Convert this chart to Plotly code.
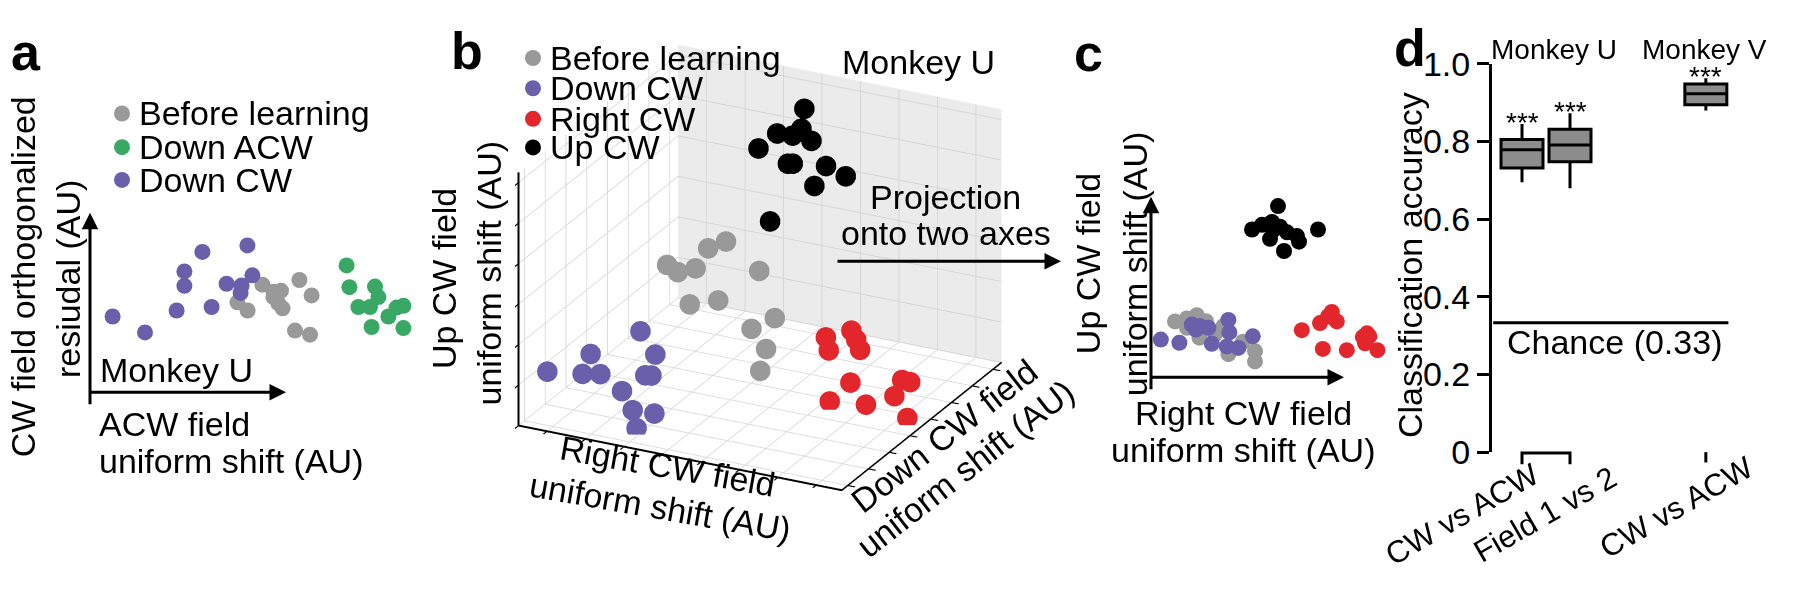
import plotly.graph_objects as go

W, H = 1800, 590
def px(x): return x / W
def py(y): return 1 - y / H

FONT = "Liberation Sans"
GRAY = "#999999"
PURPLE = "#6a5fab"
GREEN = "#3aa865"
RED = "#e2262b"
BLACK = "#000000"

# ---------------- Panel a data (AU) ----------------
a_gray_x = [7.37, 7.88, 8.62, 9.17, 9.55, 9.63, 9.42, 10.47, 11.08, 10.25, 11.0, 9.17]
a_gray_y = [4.81, 4.37, 5.75, 5.09, 5.43, 4.49, 4.75, 6.0, 5.18, 3.3, 3.08, 5.37]
a_green_x = [12.83, 12.97, 14.25, 14.42, 13.42, 14.0, 14.92, 15.33, 15.67, 14.08, 15.67]
a_green_y = [6.78, 5.62, 5.65, 5.09, 4.56, 4.56, 4.05, 4.53, 4.62, 3.49, 3.43]
a_purple_x = [1.13, 2.75, 4.33, 4.72, 4.72, 5.62, 6.08, 6.83, 7.87, 8.12, 7.58, 7.53]
a_purple_y = [4.05, 3.2, 4.37, 6.46, 5.69, 7.5, 4.56, 5.8, 7.85, 6.25, 5.71, 5.31]

# ---------------- Panel b data (AU, 3D) ----------------
b_gray_right = [2.12, 2.45, 3.0, 4.97, 2.82, 3.7, 5.45, 4.73, 5.18, 5.0, 3.39, 3.94]
b_gray_down = [5.0, 5.0, 5.0, 5.0, 5.0, 5.0, 5.0, 5.0, 5.0, 5.0, 5.0, 5.0]
b_gray_up = [4.38, 4.18, 4.47, 4.87, 3.0, 3.38, 3.13, 2.52, 1.84, 0.93, 5.36, 5.77]
b_purple_right = [0.39, 1.73, 1.48, 2.03, 3.27, 3.73, 3.42, 3.61, 2.7, 3.03, 3.7, 3.15]
b_purple_down = [1.0, 1.0, 1.0, 1.0, 1.0, 1.0, 1.0, 1.0, 1.0, 1.0, 1.0, 1.0]
b_purple_up = [1.74, 2.78, 1.93, 2.06, 4.07, 3.27, 2.37, 2.41, 1.56, 0.89, 0.93, 0.21]
b_red_right = [7.03, 7.12, 7.82, 7.97, 8.09, 7.79, 7.15, 8.27, 9.39, 9.64, 9.15, 9.55]
b_red_down = [5.0, 5.0, 5.0, 5.0, 5.0, 5.0, 5.0, 5.0, 5.0, 5.0, 5.0, 5.0]
b_red_up = [2.77, 2.28, 3.24, 2.92, 2.55, 1.18, 0.27, 0.43, 1.69, 1.67, 0.99, 0.23]
b_black_right = [4.39, 3.55, 4.03, 4.3, 4.61, 2.97, 3.88, 4.03, 5.06, 5.67, 4.7, 3.33]
b_black_down = [9.0, 9.0, 9.0, 9.0, 9.0, 9.0, 9.0, 9.0, 9.0, 9.0, 9.0, 9.0]
b_black_up = [9.11, 7.92, 7.96, 8.3, 7.9, 7.18, 6.81, 6.85, 7.02, 6.77, 6.14, 4.39]

# ---------------- Panel c data (AU) ----------------
c_gray_x = [1.25, 1.84, 2.34, 2.47, 3.67, 3.92, 5.25, 5.25, 1.85, 3.25, 4.65, 2.8]
c_gray_y = [3.04, 3.2, 3.37, 2.17, 2.79, 1.29, 1.45, 0.9, 2.7, 2.35, 1.95, 3.05]
c_purple_x = [0.54, 1.47, 2.09, 2.5, 2.92, 3.09, 3.92, 3.97, 3.84, 4.42, 5.14, 2.3]
c_purple_y = [2.07, 1.9, 2.87, 2.79, 2.7, 1.84, 3.12, 2.45, 1.7, 1.62, 2.24, 2.6]
c_red_x = [7.59, 8.5, 9.09, 9.34, 8.64, 9.84, 10.64, 10.97, 11.37, 10.75, 8.9, 10.85]
c_red_y = [2.57, 2.95, 3.54, 3.04, 1.57, 1.5, 2.2, 2.24, 1.5, 1.87, 3.3, 2.4]
c_black_x = [6.4, 5.1, 5.6, 6.1, 6.15, 6.5, 6.0, 6.85, 7.35, 7.45, 8.4, 6.7]
c_black_y = [9.2, 7.95, 8.2, 8.35, 7.9, 8.1, 7.45, 7.8, 7.6, 7.3, 7.95, 6.8]

# ---------------- Panel d data ----------------
d_labels = ["CW vs ACW", "Field 1 vs 2", "CW vs ACW"]
d_groups = ["Monkey U", "Monkey V"]
d_q1 = [0.732, 0.748, 0.895]
d_median = [0.779, 0.791, 0.923]
d_q3 = [0.805, 0.832, 0.948]
d_low = [0.695, 0.680, 0.880]
d_high = [0.845, 0.873, 0.963]
d_sig = ["***", "***", "***"]
chance = 1 / 3
d_yticks = [0, 0.2, 0.4, 0.6, 0.8, 1.0]
d_yticktext = ["0", "0.2", "0.4", "0.6", "0.8", "1.0"]

d_pos = [0, 1, 3.83]  # layout positions of the three boxes

fig = go.Figure()

MS = 16
MS3D = 12
def sc(x, y, color, xa, ya):
    return go.Scatter(x=x, y=y, mode="markers", xaxis=xa, yaxis=ya,
                      marker=dict(size=MS, color=color, line=dict(width=0)),
                      showlegend=False, hoverinfo="skip")

# panel a
fig.add_trace(sc(a_gray_x, a_gray_y, GRAY, "x", "y"))
fig.add_trace(sc(a_green_x, a_green_y, GREEN, "x", "y"))
fig.add_trace(sc(a_purple_x, a_purple_y, PURPLE, "x", "y"))

# panel b (3D)
def s3(x, y, z, color):
    return go.Scatter3d(x=x, y=y, z=z, mode="markers", scene="scene",
                        marker=dict(size=MS3D, color=color, line=dict(width=0), opacity=1),
                        showlegend=False, hoverinfo="skip")
fig.add_trace(s3(b_gray_right, b_gray_down, b_gray_up, GRAY))
fig.add_trace(s3(b_purple_right, b_purple_down, b_purple_up, PURPLE))
fig.add_trace(s3(b_red_right, b_red_down, b_red_up, RED))
fig.add_trace(s3(b_black_right, b_black_down, b_black_up, BLACK))

# panel c
fig.add_trace(sc(c_gray_x, c_gray_y, GRAY, "x2", "y2"))
fig.add_trace(sc(c_purple_x, c_purple_y, PURPLE, "x2", "y2"))
fig.add_trace(sc(c_red_x, c_red_y, RED, "x2", "y2"))
fig.add_trace(sc(c_black_x, c_black_y, BLACK, "x2", "y2"))

# panel d
fig.add_trace(go.Box(x=d_pos, q1=d_q1, median=d_median, q3=d_q3,
                     lowerfence=d_low, upperfence=d_high,
                     xaxis="x3", yaxis="y3", width=0.875, whiskerwidth=0,
                     fillcolor="#8c8c8c", line=dict(color="black", width=3),
                     boxpoints=False, showlegend=False, hoverinfo="skip"))

hidden = dict(visible=False, fixedrange=True)

ax3d = dict(title=dict(text=""), showticklabels=False, ticks="outside", ticklen=8,
            tickwidth=3, tickcolor="black", showline=True, linecolor="black", linewidth=4,
            showgrid=True, gridcolor="#d6d6d6", gridwidth=2, zeroline=False,
            showspikes=False, showbackground=True, backgroundcolor="white",
            range=[0, 10], autorange=False)

fig.update_layout(
    width=W, height=H, autosize=False,
    margin=dict(l=0, r=0, t=0, b=0),
    paper_bgcolor="white", plot_bgcolor="rgba(0,0,0,0)",
    font=dict(family=FONT, color="black", size=34),
    xaxis=dict(domain=[px(90), px(420)], range=[0, 16.5], **hidden),
    yaxis=dict(domain=[py(399), py(150)], range=[0, 12.45], **hidden),
    xaxis2=dict(domain=[px(1150), px(1420)], range=[0, 13.5], **hidden),
    yaxis2=dict(domain=[py(384), py(150)], range=[0, 11.7], **hidden),
    xaxis3=dict(domain=[px(1492), px(1780)], range=[-0.625, 5.375], visible=False, fixedrange=True),
    yaxis3=dict(domain=[py(463), py(48)], range=[0, 1], anchor="x3",
                showline=True, linecolor="black", linewidth=3,
                ticks="outside", ticklen=12, tickwidth=3, tickcolor="black",
                tickvals=d_yticks, ticktext=d_yticktext, tickfont=dict(size=34),
                showgrid=False, zeroline=False, fixedrange=True),
    scene=dict(
        domain=dict(x=[px(490), px(1030)], y=[py(506), py(26)]),
        xaxis=dict(ax3d, tick0=0.88, dtick=1.19),
        yaxis=dict(ax3d, tick0=1.67, dtick=1.3, backgroundcolor="#ebebeb"),
        zaxis=dict(ax3d, tick0=0, dtick=1.6),
        aspectmode="manual", aspectratio=dict(x=1.61, y=1.59, z=1.23),
        camera=dict(eye=dict(x=0.83, y=-1.66, z=0.81), up=dict(x=0, y=0, z=1),
                    center=dict(x=0, y=0, z=0), projection=dict(type="orthographic")),
        bgcolor="rgba(0,0,0,0)",
    ),
)

ann = []
def text(x, y, s, size=34, xanchor="center", yanchor="middle", angle=0, bold=False):
    ann.append(dict(x=px(x), y=py(y), xref="paper", yref="paper", text=(f"<b>{s}</b>" if bold else s),
                    showarrow=False, xanchor=xanchor, yanchor=yanchor, textangle=angle,
                    font=dict(size=size, family=FONT, color="black")))

def arrow(x0, y0, x1, y1, width=3):
    ann.append(dict(x=px(x1), y=py(y1), xref="paper", yref="paper", ax=x0 - x1, ay=y0 - y1,
                    axref="pixel", ayref="pixel", text="", showarrow=True, arrowhead=2,
                    arrowsize=1.1, arrowwidth=width, arrowcolor="black", standoff=0, startstandoff=0))

shapes = []
def dot(x, y, color, r=8):
    shapes.append(dict(type="circle", xref="paper", yref="paper", xsizemode="pixel", ysizemode="pixel",
                       xanchor=px(x), yanchor=py(y), x0=-r, x1=r, y0=-r, y1=r,
                       fillcolor=color, line=dict(width=0), layer="above"))

# panel labels
text(26, 35, "a", size=52, bold=True)
text(467, 34, "b", size=52, bold=True)
text(1088, 36, "c", size=52, bold=True)
text(1410, 31, "d", size=52, bold=True)

# panel a
for yy, lab, col in [(101, "Before learning", GRAY), (137, "Down ACW", GREEN), (172, "Down CW", PURPLE)]:
    dot(122, yy, col)
    text(137, yy, lab, xanchor="left")
arrow(90, 400, 90, 207)
arrow(89, 399, 286, 399)
text(23, 276, "CW field orthogonalized", angle=-90)
text(68, 278, "resiudal (AU)", angle=-90)
text(98, 375, "Monkey U", xanchor="left")
text(97, 433, "ACW field", xanchor="left")
text(97, 472, "uniform shift (AU)", xanchor="left")

# panel b
for yy, lab, col in [(41.7, "Before learning", GRAY), (74, "Down CW", PURPLE),
                     (106.7, "Right CW", RED), (137.3, "Up CW", BLACK)]:
    dot(533, yy, col)
    text(548, yy, lab, xanchor="left")
text(840, 46, "Monkey U", xanchor="left")
text(945, 190, "Projection")
text(946, 229, "onto two axes")
arrow(836, 259, 1061, 259)
text(444, 278, "Up CW field", angle=-90)
text(489, 272, "uniform shift (AU)", angle=-90)
text(667, 478, "Right CW field", angle=10)
text(660, 522, "uniform shift (AU)", angle=10)
text(944, 446, "Down CW field", angle=-38)
text(966, 480, "uniform shift (AU)", angle=-38)

# panel c
arrow(1151, 384, 1151, 190)
arrow(1150, 383, 1344, 383)
text(1088, 262, "Up CW field", angle=-90)
text(1135, 262, "uniform shift (AU)", angle=-90)
text(1243, 421, "Right CW field")
text(1243, 461, "uniform shift (AU)")

# panel d
text(1410, 263, "Classification accuracy", angle=-90)
text(1554, 33, d_groups[0], size=28)
text(1704, 33, d_groups[1], size=28)
text(1614, 345, "Chance (0.33)")
for p, hi, s in zip(d_pos, d_high, d_sig):
    ann.append(dict(x=p, y=hi, xref="x3", yref="y3", text=s, showarrow=False,
                    xanchor="center", yanchor="middle", yshift=2,
                    font=dict(size=28, family=FONT, color="black")))
shapes.append(dict(type="line", xref="x3", yref="y3", x0=-0.6, x1=4.3, y0=chance, y1=chance,
                   line=dict(color="black", width=3)))
# bracket & tick under boxes
shapes.append(dict(type="path", xref="x3", yref="paper",
                   path=f"M {d_pos[0]},{py(476)} L {d_pos[0]},{py(464)} L {d_pos[1]},{py(464)} L {d_pos[1]},{py(476)}",
                   line=dict(color="black", width=3)))
shapes.append(dict(type="line", xref="x3", yref="paper", x0=d_pos[2], x1=d_pos[2], y0=py(463), y1=py(474),
                   line=dict(color="black", width=3)))
text(1462, 530, d_labels[0], size=31, angle=-30)
text(1545, 530, d_labels[1], size=31, angle=-30)
text(1676, 522, d_labels[2], size=31, angle=-30)

fig.update_layout(annotations=ann, shapes=shapes)
fig.write_html("out.html", config={"displayModeBar": False, "staticPlot": False},
               post_script="document.body.style.margin='0px';document.body.style.padding='0px';")
